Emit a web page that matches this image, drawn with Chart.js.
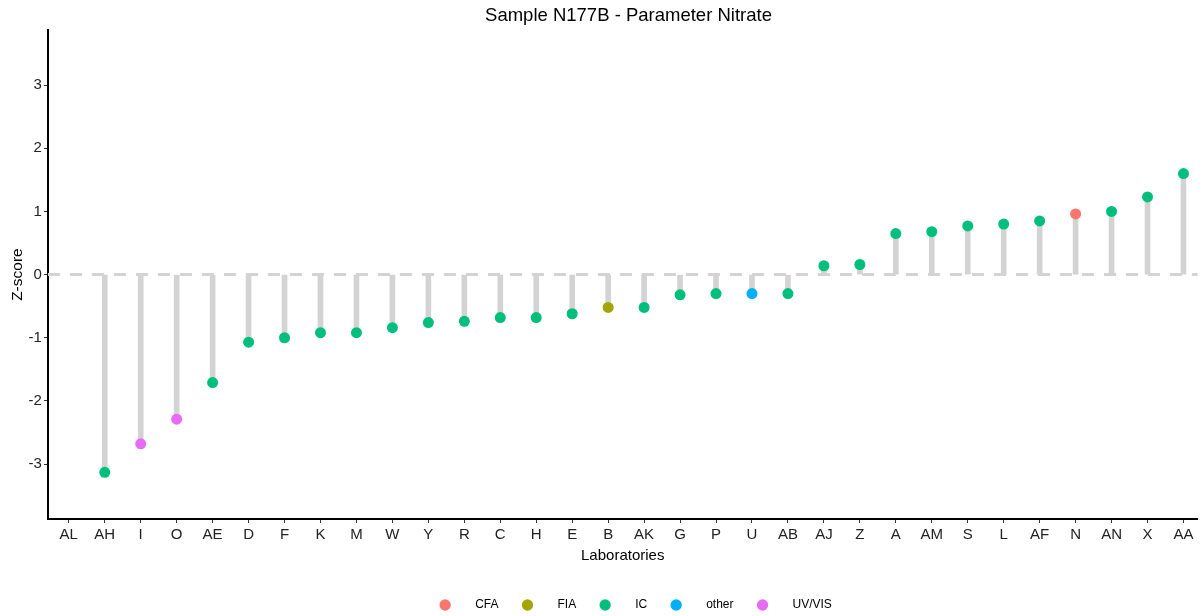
<!DOCTYPE html>
<html>
<head>
<meta charset="utf-8">
<script src="https://cdn.jsdelivr.net/npm/chart.js@4/dist/chart.umd.min.js"></script>
<style>
  html, body { margin: 0; padding: 0; background: #fff; }
  #wrap { width: 1203px; height: 616px; }
</style>
</head>
<body>
<div id="wrap"><canvas id="chart"></canvas></div>
<script>
// --- data ---
const labs = ['AL','AH','I','O','AE','D','F','K','M','W','Y','R','C','H','E','B','AK','G','P','U','AB','AJ','Z','A','AM','S','L','AF','N','AN','X','AA'];
const zscores = [null,-3.13,-2.68,-2.29,-1.71,-1.07,-1.0,-0.92,-0.92,-0.84,-0.76,-0.74,-0.68,-0.68,-0.62,-0.52,-0.52,-0.32,-0.30,-0.30,-0.30,0.14,0.16,0.65,0.68,0.77,0.80,0.85,0.96,1.0,1.23,1.60];
const methodOf = [null,'IC','UV/VIS','UV/VIS','IC','IC','IC','IC','IC','IC','IC','IC','IC','IC','IC','FIA','IC','IC','IC','other','IC','IC','IC','IC','IC','IC','IC','IC','CFA','IC','IC','IC'];
const methods = ['CFA','FIA','IC','other','UV/VIS'];
const methodColors = ['#F8766D','#A3A500','#00BF7D','#00B0F6','#E76BF3'];
const yTicks = [-3,-2,-1,0,1,2,3];

const stemColor = '#D3D3D3';

// stems from 0 to the z-score
const stems = {
    type: 'bar',
    label: 'stems',
    data: labs.map((l, i) => zscores[i] === null ? null : { x: i, y: [0, zscores[i]] }).filter(d => d),
    backgroundColor: stemColor,
    borderWidth: 0,
    barThickness: 5,
    order: 2
};

// one point dataset per method
const pointSets = methods.map((m, k) => ({
    type: 'scatter',
    label: m,
    data: labs.map((l, i) => (methodOf[i] === m ? { x: i, y: zscores[i] } : null)).filter(d => d),
    backgroundColor: methodColors[k],
    borderColor: methodColors[k],
    pointRadius: 5.5,
    pointHoverRadius: 5.5,
    borderWidth: 0,
    showLine: false,
    order: 1
}));

// dashed zero reference line behind everything
const zeroLine = {
    id: 'zeroLine',
    beforeDatasetsDraw(chart) {
        const { ctx, chartArea, scales } = chart;
        const y = scales.y.getPixelForValue(0);
        ctx.save();
        ctx.strokeStyle = stemColor;
        ctx.lineWidth = 3;
        ctx.setLineDash([12, 10]);
        ctx.beginPath();
        ctx.moveTo(chartArea.left, y);
        ctx.lineTo(chartArea.right, y);
        ctx.stroke();
        ctx.restore();
    }
};

// nudge legend and title like the original (they sit centred on the panel)
const boxNudge = {
    id: 'boxNudge',
    afterLayout(chart) {
        const lg = chart.legend;
        lg.left += 32; lg.right += 32;
        lg.top += 5; lg.bottom += 5;
        const tb = chart.titleBlock;
        tb.left += 24; tb.right += 24;
        tb.top += 2; tb.bottom += 2;
    }
};

Chart.defaults.font.family = "'Liberation Sans', Arial, sans-serif";
Chart.defaults.animation = false;

new Chart(document.getElementById('chart'), {
    data: { datasets: [stems, ...pointSets] },
    plugins: [zeroLine, boxNudge],
    options: {
        responsive: true,
        maintainAspectRatio: false,
        layout: { padding: { left: 6, right: 0, top: 2, bottom: 0 } },
        plugins: {
            title: {
                display: true,
                text: 'Sample N177B - Parameter Nitrate',
                color: '#000',
                font: { size: 18.5, weight: 'normal' },
                padding: { top: 1, bottom: 5 }
            },
            legend: {
                position: 'bottom',
                labels: {
                    usePointStyle: true,
                    pointStyle: 'circle',
                    boxWidth: 8,
                    boxHeight: 8,
                    padding: 25,
                    color: '#000',
                    font: { size: 12 },
                    filter: (item) => item.datasetIndex !== 0,
                    generateLabels: (chart) => {
                        const base = Chart.defaults.plugins.legend.labels.generateLabels(chart);
                        return base.map(it => ({ ...it, text: '      ' + it.text, lineWidth: 0 }));
                    }
                }
            },
            tooltip: { enabled: false }
        },
        scales: {
            x: {
                type: 'linear',
                offset: false,
                min: -0.58,
                max: 31.39,
                afterBuildTicks: (axis) => { axis.ticks = labs.map((l, i) => ({ value: i })); },
                ticks: {
                    autoSkip: false,
                    maxRotation: 0,
                    color: '#222',
                    font: { size: 15 },
                    padding: 3,
                    callback: (v) => labs[v]
                },
                grid: { display: true, offset: false, drawOnChartArea: false, tickLength: 4, color: '#333' },
                border: { display: true, color: '#000', width: 2 },
                title: { display: true, text: 'Laboratories', color: '#000', font: { size: 15 }, padding: { top: 0, bottom: 4 } }
            },
            y: {
                min: -3.87,
                max: 3.87,
                afterBuildTicks: (axis) => { axis.ticks = yTicks.map(v => ({ value: v })); },
                ticks: { color: '#222', font: { size: 15 }, padding: 2 },
                grid: { display: true, drawOnChartArea: false, tickLength: 4, color: '#333' },
                border: { display: true, color: '#000', width: 2 },
                title: { display: true, text: 'Z-score', color: '#000', font: { size: 15.5 }, padding: { top: 2, bottom: 0 } }
            }
        }
    }
});
</script>
</body>
</html>
